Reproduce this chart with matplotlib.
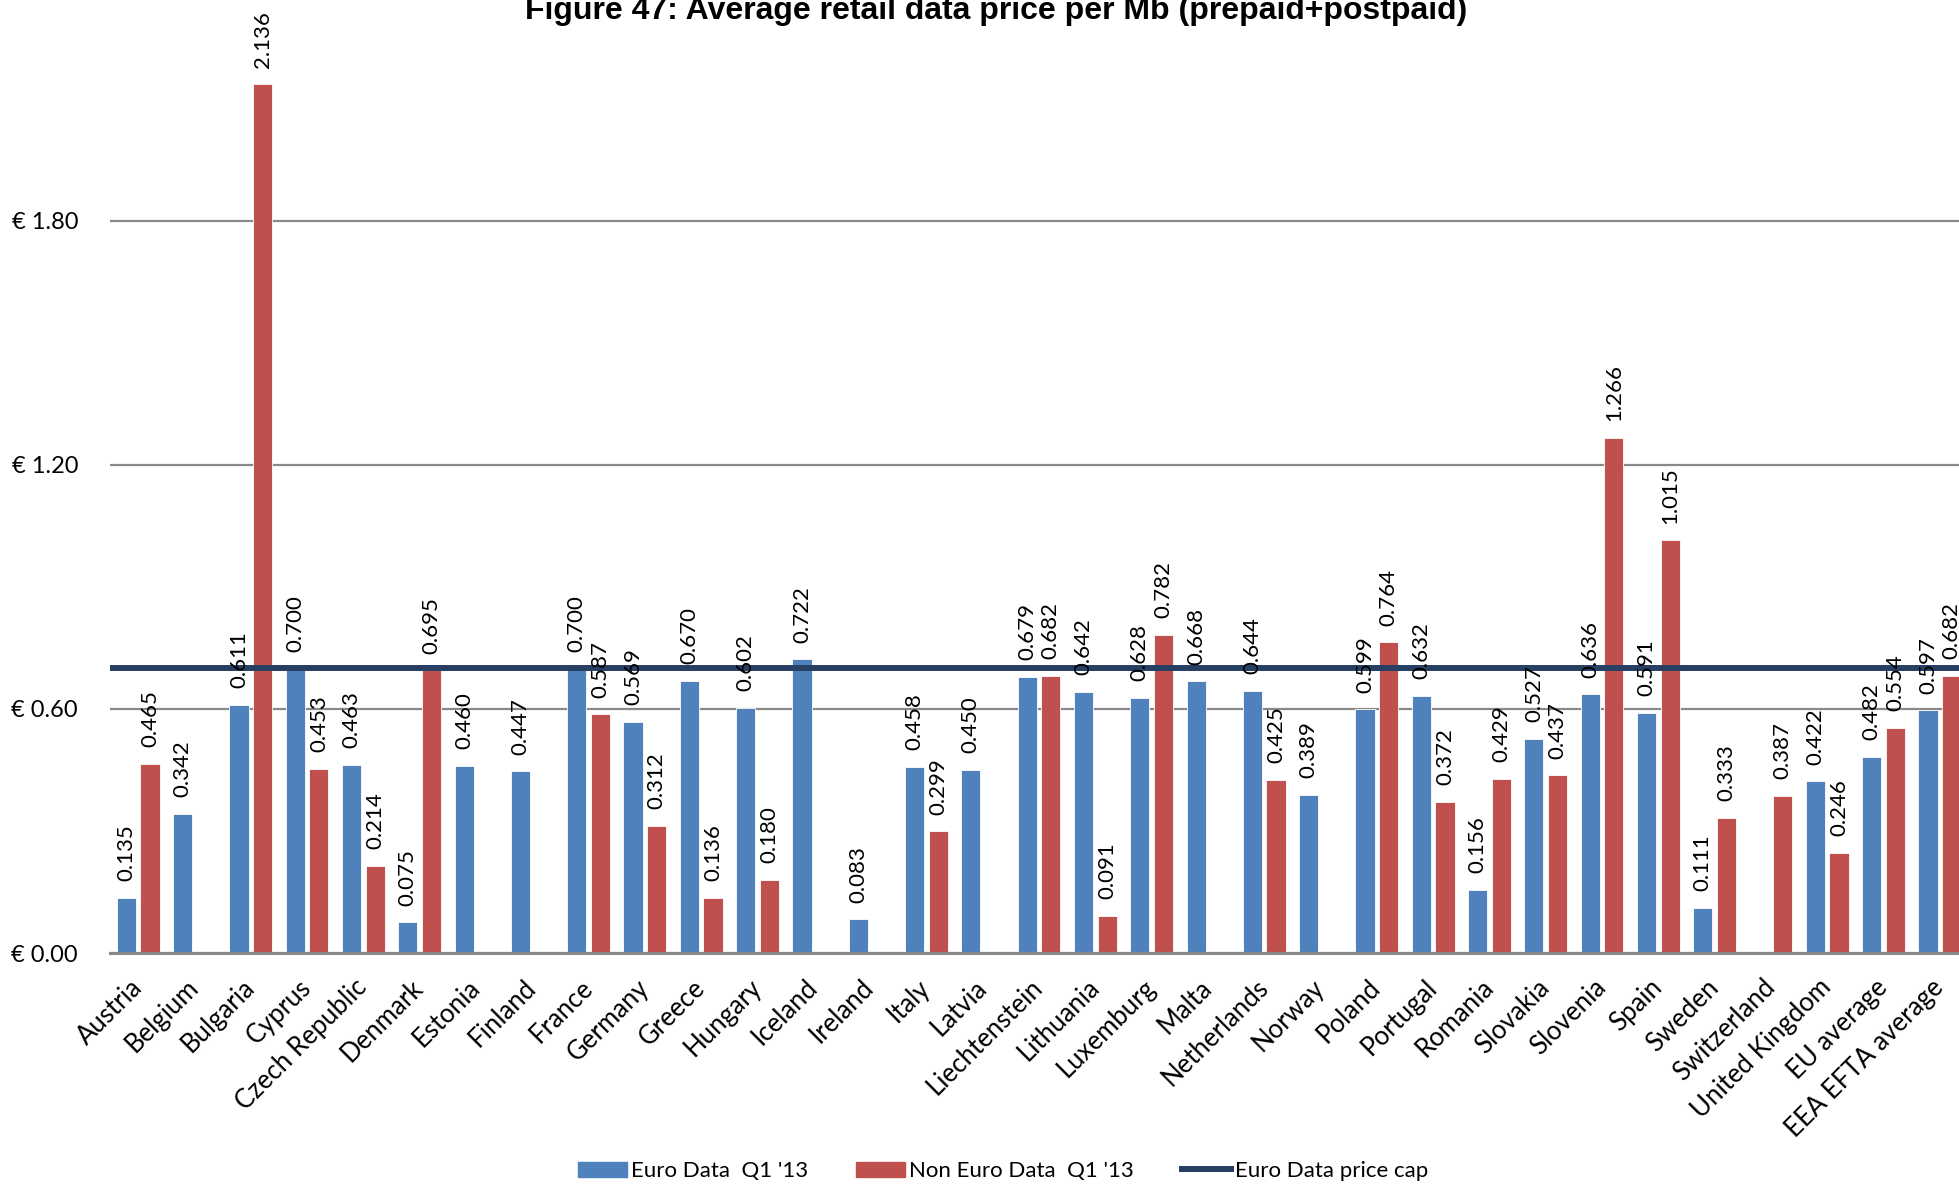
import matplotlib.pyplot as plt
import numpy as np
from matplotlib.patches import Patch
from matplotlib.lines import Line2D

countries = ['Austria', 'Belgium', 'Bulgaria', 'Cyprus', 'Czech Republic', 'Denmark',
             'Estonia', 'Finland', 'France', 'Germany', 'Greece', 'Hungary', 'Iceland',
             'Ireland', 'Italy', 'Latvia', 'Liechtenstein', 'Lithuania', 'Luxemburg',
             'Malta', 'Netherlands', 'Norway', 'Poland', 'Portugal', 'Romania',
             'Slovakia', 'Slovenia', 'Spain', 'Sweden', 'Switzerland', 'United Kingdom',
             'EU average', 'EEA EFTA average']

# None = no value reported
euro = [0.135, 0.342, 0.611, 0.700, 0.463, 0.075, 0.460, 0.447, 0.700, 0.569,
        0.670, 0.602, 0.722, 0.083, 0.458, 0.450, 0.679, 0.642, 0.628, 0.668,
        0.644, 0.389, 0.599, 0.632, 0.156, 0.527, 0.636, 0.591, 0.111, None,
        0.422, 0.482, 0.597]
non_euro = [0.465, None, 2.136, 0.453, 0.214, 0.695, None, None, 0.587, 0.312,
            0.136, 0.180, None, None, 0.299, None, 0.682, 0.091, 0.782, None,
            0.425, None, 0.764, 0.372, 0.429, 0.437, 1.266, 1.015, 0.333, 0.387,
            0.246, 0.554, 0.682]
price_cap = 0.70

yticks = [0.0, 0.6, 1.2, 1.8]

BLUE = '#4F81BD'
RED = '#C0504D'
NAVY = '#263F63'
GRID = '#898989'

W, H = 1959, 1184
fig = plt.figure(figsize=(W / 100, H / 100), dpi=100)
# plot area runs past the right edge, as in the source
ax = fig.add_axes([110 / W, (H - 953) / H, 1858 / W, 953 / H])

x = np.arange(len(countries))
bw = 0.34
off = 0.21


def draw(vals, dx, color):
    xs = [xi + dx for xi, v in zip(x, vals) if v is not None]
    vs = [v for v in vals if v is not None]
    ax.bar(xs, vs, bw, color=color, edgecolor='white', linewidth=0.6, zorder=2)
    for xi, v in zip(xs, vs):
        ax.annotate('%.3f' % v, (xi, v), xytext=(0, 12), textcoords='offset points',
                    rotation=90, ha='center', va='bottom', fontsize=16,
                    family='Lato', color='black', zorder=4)


draw(euro, -off, BLUE)
draw(non_euro, off, RED)
ax.axhline(price_cap, color=NAVY, lw=4.3, zorder=3)

ax.set_xlim(-0.5, len(countries) - 0.5)
ax.set_ylim(0, 953 / 406.7)
ax.set_yticks(yticks)
ax.set_yticklabels(['€ %.2f' % t for t in yticks], family='Lato', fontsize=17)
ax.yaxis.grid(True, color=GRID, lw=1.6, zorder=0)
ax.tick_params(axis='y', length=0, pad=23)
ax.set_xticks(x)
ax.set_xticklabels(countries, rotation=45, ha='right', va='center',
                   rotation_mode='anchor', family='Lato', fontsize=18.5)
ax.tick_params(axis='x', length=0, pad=22)
for s in ['top', 'right', 'left']:
    ax.spines[s].set_visible(False)
ax.spines['bottom'].set_color(GRID)
ax.spines['bottom'].set_linewidth(2.2)
ax.spines['bottom'].set_zorder(5)

fig.text(996 / W, 1 - 19 / H, 'Figure 47: Average retail data price per Mb (prepaid+postpaid)',
         ha='center', va='baseline', fontsize=23, fontweight='bold', family='Liberation Sans')

handles = [Patch(color=BLUE), Patch(color=RED), Line2D([], [], color=NAVY, lw=4.3)]
labels = ["Euro Data  Q1 '13", "Non Euro Data  Q1 '13", 'Euro Data price cap']
fig.legend(handles, labels, loc='center', bbox_to_anchor=(1003 / W, 1 - 1171 / H),
           ncol=3, frameon=False, prop={'family': 'Lato', 'size': 16},
           handlelength=2.2, handleheight=0.65, handletextpad=0.2, columnspacing=2.15)

fig.savefig('out.png', dpi=100)
